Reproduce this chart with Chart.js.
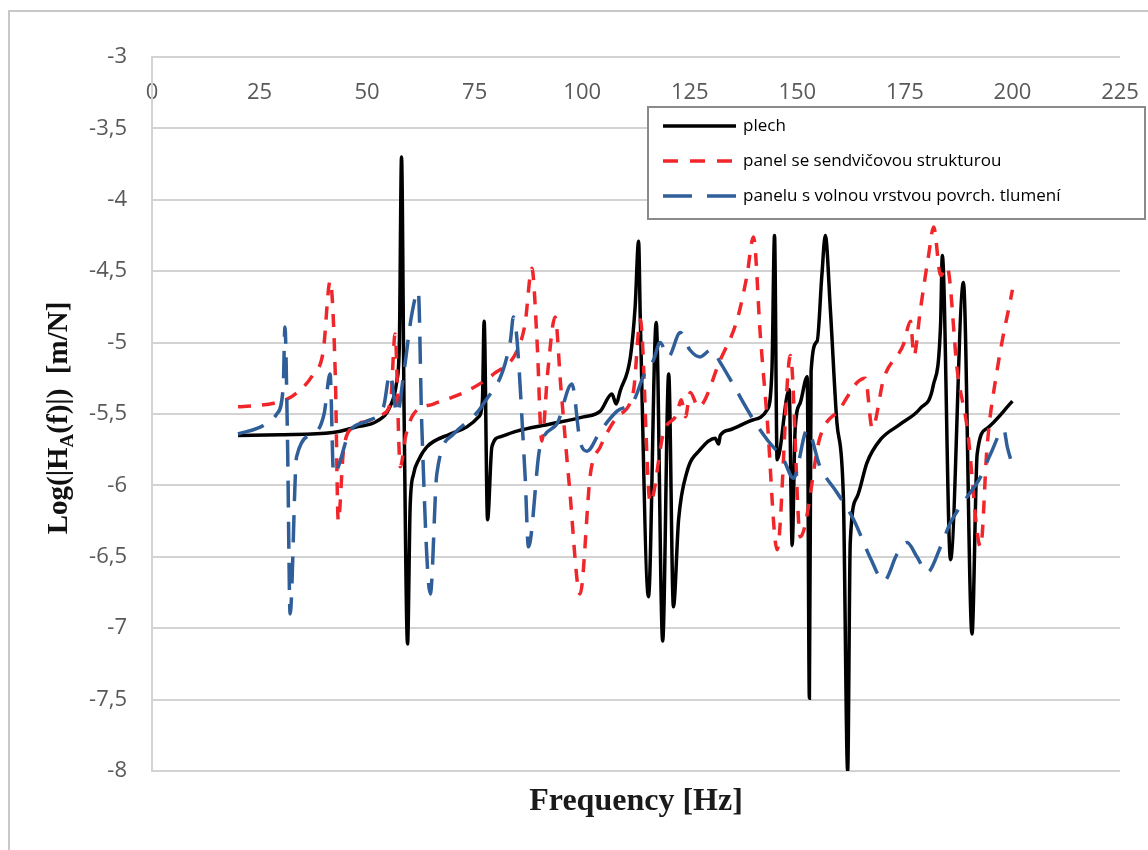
<!DOCTYPE html>
<html>
<head>
<meta charset="utf-8">
<script src="https://cdn.jsdelivr.net/npm/chart.js@4.4.1/dist/chart.umd.min.js"></script>
<style>
  body { margin: 0; background: #fff; }
</style>
</head>
<body>
<canvas id="frfChart" width="1148" height="850"></canvas>
<script>
const seriesNames = ['plech', 'panel se sendvičovou strukturou', 'panelu s volnou vrstvou povrch. tlumení'];

const xTickValues = [0, 25, 50, 75, 100, 125, 150, 175, 200, 225];
const yTickValues = [-8, -7.5, -7, -6.5, -6, -5.5, -5, -4.5, -4, -3.5, -3];

// plech
const plechFreq = [20, 30, 42, 47.6, 52.3, 55.3, 56.9, 57.5, 58, 58.6, 59.4, 60, 60.8, 62, 63.9, 69.3, 73.2, 75.9, 76.8, 77.2,
  78, 79, 80.9, 84.8, 92.6, 100.3, 104.2, 106.9, 107.9, 108.8, 111.2, 112.3, 113.1, 113.5, 115.4, 117.2, 118.7, 120.1, 121.2, 122.4,
  124.3, 127.4, 130.9, 131.7, 132.1, 134.4, 139.8, 143, 144.1, 144.7, 145.3, 148.1, 148.8, 149.5, 150.7, 152.3, 152.8, 153.2, 154.6, 155.7,
  156.5, 157.7, 159.2, 160.7, 161.7, 162.3, 163.9, 166.2, 169.3, 174, 178.6, 181.6, 183.3, 183.7, 185.6, 188.6, 190.6, 191.8, 194.1, 200];
const plechLog = [-5.65, -5.645, -5.63, -5.59, -5.55, -5.45, -5.27, -5.0, -3.7, -5.5, -7.11, -6.15, -5.92, -5.82, -5.73, -5.64, -5.59, -5.52, -5.41, -4.85,
  -6.24, -5.73, -5.66, -5.62, -5.57, -5.52, -5.48, -5.36, -5.43, -5.34, -5.1, -4.75, -4.29, -4.84, -6.78, -4.86, -7.09, -5.22, -6.85, -6.24,
  -5.91, -5.75, -5.67, -5.71, -5.65, -5.61, -5.54, -5.47, -5.19, -4.25, -5.82, -5.33, -6.42, -5.6, -5.42, -5.24, -7.49, -5.2, -4.99, -4.53,
  -4.25, -4.78, -5.56, -6.08, -8, -6.4, -6.08, -5.84, -5.68, -5.57, -5.46, -5.3, -4.87, -4.39, -6.52, -4.58, -7.04, -5.78, -5.6, -5.41];

// panel se sendvičovou strukturou
const sendFreq = [20, 29, 32.9, 37.5, 39.8, 41.4, 42.6, 43.3, 44.5, 46.8, 50, 53.8, 55.5, 56.5, 57.7, 59, 60.8, 65.4, 73.2, 79.4,
  84.8, 86.7, 88.3, 89.5, 90.6, 92, 93.7, 95, 97, 99.5, 101.9, 104.2, 108.1, 111.9, 113.5, 115.8, 118.9, 122, 123, 124,
  125.1, 127, 132.1, 136, 138.3, 139.8, 141.4, 143, 145.3, 148.4, 150.7, 155.3, 160, 163.9, 165.8, 167.4, 170.1, 174.7, 176.3, 177.1,
  178.6, 180.5, 181.7, 183.3, 184.8, 187.2, 189.5, 192.6, 194.1, 196.4, 200];
const sendLog = [-5.45, -5.42, -5.37, -5.22, -5.06, -4.57, -5.22, -6.25, -5.76, -5.59, -5.55, -5.5, -5.4, -4.94, -5.87, -5.65, -5.5, -5.43, -5.34, -5.22,
  -5.06, -4.87, -4.48, -4.99, -5.69, -5.2, -4.82, -5.3, -6.0, -6.76, -5.92, -5.73, -5.52, -5.34, -4.84, -6.12, -5.63, -5.5, -5.4, -5.52,
  -5.35, -5.45, -5.12, -4.84, -4.53, -4.26, -4.95, -5.54, -6.45, -5.09, -6.36, -5.66, -5.46, -5.28, -5.25, -5.6, -5.25, -5.01, -4.85, -5.09,
  -4.77, -4.39, -4.19, -4.53, -4.47, -5.2, -5.6, -6.43, -5.73, -5.2, -4.63];

// panelu s volnou vrstvou povrch. tlumení
const tlumFreq = [20, 25.9, 29, 30.5, 30.9, 31.5, 32.1, 33.6, 37.5, 40, 41.4, 42.2, 46, 49.9, 53.8, 55.3, 57, 58.5, 60.4, 61.9,
  62.7, 64.7, 66.2, 70.1, 77, 83.3, 84, 86.7, 87.5, 90.2, 94.1, 97.6, 99.5, 101.1, 104.2, 108.1, 111.9, 114.3, 116.6, 118.1,
  120, 122.8, 125, 127.4, 130, 132.1, 135.2, 139.8, 143, 146.8, 149.1, 152.3, 155.3, 159.2, 163.1, 167, 170.1, 173.2, 175.5, 177.8,
  180.2, 183.3, 185.6, 189.5, 192.6, 194.9, 198, 198.8, 200];
const tlumLog = [-5.64, -5.58, -5.5, -5.31, -4.89, -5.69, -6.9, -5.8, -5.64, -5.5, -5.22, -5.92, -5.62, -5.55, -5.45, -5.22, -5.5, -5.22, -4.8, -4.64,
  -5.57, -6.76, -5.92, -5.64, -5.43, -4.99, -4.82, -5.92, -6.43, -5.73, -5.57, -5.29, -5.69, -5.76, -5.62, -5.48, -5.41, -5.23, -5.12, -5.0,
  -5.1, -4.93, -5.05, -5.1, -5.05, -5.14, -5.3, -5.54, -5.68, -5.82, -5.95, -5.61, -5.87, -6.05, -6.24, -6.51, -6.67, -6.48, -6.4, -6.5,
  -6.61, -6.43, -6.26, -6.08, -5.94, -5.78, -5.61, -5.73, -5.86];

function toPoints(xs, ys) {
  return xs.map((x, i) => ({ x: x, y: ys[i] }));
}

const gridGray = '#d3d3d3';
const tickGray = '#595959';

// outer frame of the figure
const framePlugin = {
  id: 'frame',
  beforeDraw(chart) {
    const ctx = chart.ctx;
    ctx.save();
    ctx.strokeStyle = '#c8c8c8';
    ctx.lineWidth = 2;
    ctx.strokeRect(9, 11, 1200, 900);
    ctx.restore();
  }
};

// rotated y title with subscript A
const yTitlePlugin = {
  id: 'yTitle',
  afterDraw(chart) {
    const ctx = chart.ctx;
    const area = chart.chartArea;
    const big = 'bold 29px "Liberation Serif"';
    const small = 'bold 19px "Liberation Serif"';
    const parts = [['Log(|H', big, 0], ['A', small, 6], ['(f)|)  [m/N]', big, 0]];
    ctx.save();
    ctx.translate(57, (area.top + area.bottom) / 2 + 4);
    ctx.rotate(-Math.PI / 2);
    ctx.fillStyle = '#111';
    ctx.textBaseline = 'alphabetic';
    let total = 0;
    parts.forEach(p => { ctx.font = p[1]; total += ctx.measureText(p[0]).width; });
    let x = -total / 2;
    parts.forEach(p => {
      ctx.font = p[1];
      ctx.fillText(p[0], x, 10 + p[2]);
      x += ctx.measureText(p[0]).width;
    });
    ctx.restore();
  }
};

// boxed legend inside the plot
const legendBoxPlugin = {
  id: 'legendBox',
  afterDraw(chart) {
    const ctx = chart.ctx;
    const rows = [126, 161, 196];
    ctx.save();
    ctx.fillStyle = '#fff';
    ctx.fillRect(648, 107, 497, 112);
    ctx.strokeStyle = '#8a8a8a';
    ctx.lineWidth = 2;
    ctx.strokeRect(648, 107, 497, 112);
    chart.data.datasets.forEach((ds, i) => {
      ctx.beginPath();
      ctx.strokeStyle = ds.borderColor;
      ctx.lineWidth = ds.borderWidth;
      ctx.setLineDash(ds.legendDash);
      ctx.moveTo(663, rows[i]);
      ctx.lineTo(736, rows[i]);
      ctx.stroke();
      ctx.setLineDash([]);
      ctx.fillStyle = '#000';
      ctx.font = '17px "Open Sans"';
      ctx.textBaseline = 'middle';
      ctx.fillText(ds.label, 743, rows[i]);
    });
    ctx.restore();
  }
};

const ctx = document.getElementById('frfChart').getContext('2d');
new Chart(ctx, {
  type: 'line',
  data: {
    datasets: [
      {
        label: seriesNames[0],
        data: toPoints(plechFreq, plechLog),
        borderColor: '#000000',
        borderWidth: 3.5,
        legendDash: [],
        order: 3
      },
      {
        label: seriesNames[1],
        data: toPoints(sendFreq, sendLog),
        borderColor: '#f0262b',
        borderWidth: 3.5,
        borderDash: [13, 11],
        legendDash: [15, 12],
        order: 2
      },
      {
        label: seriesNames[2],
        data: toPoints(tlumFreq, tlumLog),
        borderColor: '#2f5e98',
        borderWidth: 3.5,
        borderDash: [27, 14],
        legendDash: [29, 15],
        order: 1
      }
    ]
  },
  options: {
    responsive: false,
    animation: false,
    devicePixelRatio: 1,
    layout: { padding: { left: 0, top: 57, right: 28, bottom: 29 } },
    elements: {
      point: { radius: 0 },
      line: { cubicInterpolationMode: 'monotone', fill: false }
    },
    plugins: {
      legend: { display: false },
      tooltip: { enabled: false }
    },
    scales: {
      x: {
        type: 'linear',
        position: { y: -3 },
        min: 0,
        max: 225,
        afterBuildTicks: s => { s.ticks = xTickValues.map(v => ({ value: v })); },
        afterFit: s => { s.height = 0; s.paddingLeft = 0; s.paddingRight = 0; },
        grid: { display: false, drawTicks: false },
        border: { display: false },
        ticks: {
          padding: 23,
          color: tickGray,
          font: { family: 'Open Sans', size: 22 },
          maxRotation: 0,
          callback: v => String(v)
        }
      },
      x2: {
        type: 'linear',
        position: 'bottom',
        min: 0,
        max: 225,
        afterFit: s => { s.height = 50; s.paddingLeft = 0; s.paddingRight = 0; },
        grid: { display: false, drawTicks: false },
        border: { display: false },
        ticks: { display: false },
        title: {
          display: true,
          text: 'Frequency [Hz]',
          color: '#1a1a1a',
          font: { family: 'Liberation Serif', size: 32, weight: 'bold' },
          padding: { top: 12, bottom: 0 }
        }
      },
      y: {
        type: 'linear',
        position: 'left',
        min: -8,
        max: -3,
        afterBuildTicks: s => { s.ticks = yTickValues.map(v => ({ value: v })); },
        afterFit: s => { s.width = 152; },
        grid: { color: gridGray, lineWidth: 2, drawTicks: false },
        border: { display: true, color: gridGray, width: 2 },
        ticks: {
          padding: 25,
          color: tickGray,
          font: { family: 'Open Sans', size: 22 },
          callback: v => String(v).replace('.', ',')
        }
      }
    }
  },
  plugins: [framePlugin, yTitlePlugin, legendBoxPlugin]
});
</script>
</body>
</html>
